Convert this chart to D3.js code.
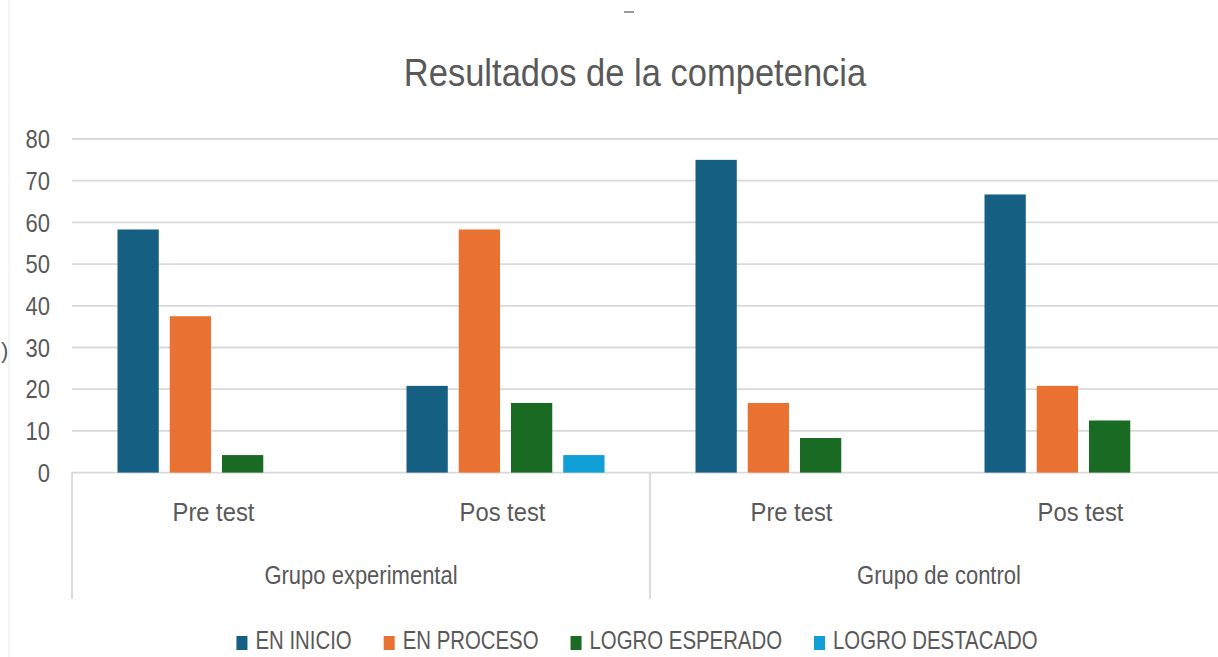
<!DOCTYPE html>
<html>
<head>
<meta charset="utf-8">
<script src="https://cdn.jsdelivr.net/npm/d3@7"></script>
<style>
  html, body { margin: 0; padding: 0; background: #fff; }
  svg { display: block; }
  text { font-family: "Liberation Sans", Arial, sans-serif; fill: #595959; }
</style>
</head>
<body>
<svg id="chart" width="1218" height="657"></svg>
<script>
const title = "Resultados de la competencia";
const groups = ["Grupo experimental", "Grupo de control"];
const tests = ["Pre test", "Pos test"];
const series = ["EN INICIO", "EN PROCESO", "LOGRO ESPERADO", "LOGRO DESTACADO"];
const colors = ["#156082", "#E97132", "#196B24", "#0F9ED5"];
// values per series, in order: exp-pre, exp-pos, ctrl-pre, ctrl-pos
const enInicio       = [58.3, 20.8, 75.0, 66.7];
const enProceso      = [37.5, 58.3, 16.7, 20.8];
const logroEsperado  = [4.2, 16.7, 8.3, 12.5];
const logroDestacado = [0, 4.2, 0, 0];
const yTicks = [0, 10, 20, 30, 40, 50, 60, 70, 80];

const values = [enInicio, enProceso, logroEsperado, logroDestacado];
const cats = [];
groups.forEach(g => tests.forEach(t => cats.push(g + "|" + t)));

const svg = d3.select("#chart");

// condense text horizontally (narrow font emulation)
function narrow(sel, f) {
  sel.each(function () {
    const n = this;
    const w = n.getComputedTextLength();
    d3.select(n).attr("textLength", w * f).attr("lengthAdjust", "spacingAndGlyphs");
  });
}

// faint outer border remnant
svg.append("line").attr("x1", 9).attr("x2", 9).attr("y1", 0).attr("y2", 657)
  .attr("stroke", "#ececec").attr("stroke-width", 1);
svg.append("rect").attr("x", 624).attr("y", 11).attr("width", 10).attr("height", 2).attr("fill", "#9a9a9a");
svg.append("text").attr("x", 1).attr("y", 358).attr("font-size", 22).text(")");

const y = d3.scaleLinear().domain([0, 80]).range([472.6, 139]);
const x = d3.scaleBand().domain(cats).range([72, 1228]).paddingInner(0).paddingOuter(0);
const xs = d3.scaleBand().domain(series).range([45.5, x.bandwidth() - 45.5]).paddingInner(0.21);

// gridlines
svg.append("g").selectAll("line").data(yTicks).join("line")
  .attr("x1", 72).attr("x2", 1218)
  .attr("y1", d => y(d)).attr("y2", d => y(d))
  .attr("stroke", "#d9d9d9").attr("stroke-width", 1.8);

// y axis labels
const yAxis = d3.axisLeft(y).tickValues(yTicks).tickSize(0).tickPadding(0);
const ya = svg.append("g").attr("transform", "translate(50,0)").call(yAxis);
ya.select(".domain").remove();
ya.selectAll("text").attr("font-size", 25).attr("dy", "0.35em")
  .style("font-family", '"Liberation Sans", Arial, sans-serif').style("fill", "#595959");
narrow(ya.selectAll("text"), 0.88);

// bars
series.forEach((s, si) => {
  svg.append("g").selectAll("rect").data(cats.map((c, ci) => ({ c, v: values[si][ci] })).filter(d => d.v > 0))
    .join("rect")
    .attr("x", d => x(d.c) + xs(s))
    .attr("width", xs.bandwidth())
    .attr("y", d => y(d.v))
    .attr("height", d => y(0) - y(d.v))
    .attr("fill", colors[si]);
});

// category axis dividers
const divX = [x(cats[0]), x(cats[2])];
svg.append("g").selectAll("line").data(divX).join("line")
  .attr("x1", d => d).attr("x2", d => d)
  .attr("y1", y(0)).attr("y2", 599)
  .attr("stroke", "#d9d9d9").attr("stroke-width", 1.8);

// sub-category labels
const subl = svg.append("g").selectAll("text").data(cats).join("text")
  .attr("x", d => x(d) + x.bandwidth() / 2 - 3)
  .attr("y", 521)
  .attr("text-anchor", "middle")
  .attr("font-size", 25)
  .text(d => d.split("|")[1]);
narrow(subl, 0.95);

// group labels
const grl = svg.append("g").selectAll("text").data(groups).join("text")
  .attr("x", (d, i) => x(cats[i * 2]) + x.bandwidth())
  .attr("y", 584)
  .attr("text-anchor", "middle")
  .attr("font-size", 25)
  .text(d => d);
narrow(grl, 0.88);

// title
const tt = svg.append("text").attr("x", 635).attr("y", 86).attr("text-anchor", "middle")
  .attr("font-size", 39).style("fill", "#595959").text(title);
narrow(tt, 0.885);

// legend
const leg = svg.append("g");
const items = leg.selectAll("g").data(series).join("g");
items.append("rect").attr("width", 11).attr("height", 14).attr("y", -13)
  .attr("fill", (d, i) => colors[i]);
const lt = items.append("text").attr("x", 19).attr("y", 0).attr("font-size", 25).text(d => d);
narrow(lt, 0.815);
let cx = 0;
const gap = 32;
const widths = [];
items.each(function () { widths.push(+d3.select(this).select("text").attr("textLength") + 19); });
items.attr("transform", (d, i) => { const t = cx; cx += widths[i] + gap; return `translate(${t},0)`; });
const total = cx - gap;
leg.attr("transform", `translate(${637 - total / 2},649)`);
</script>
</body>
</html>
